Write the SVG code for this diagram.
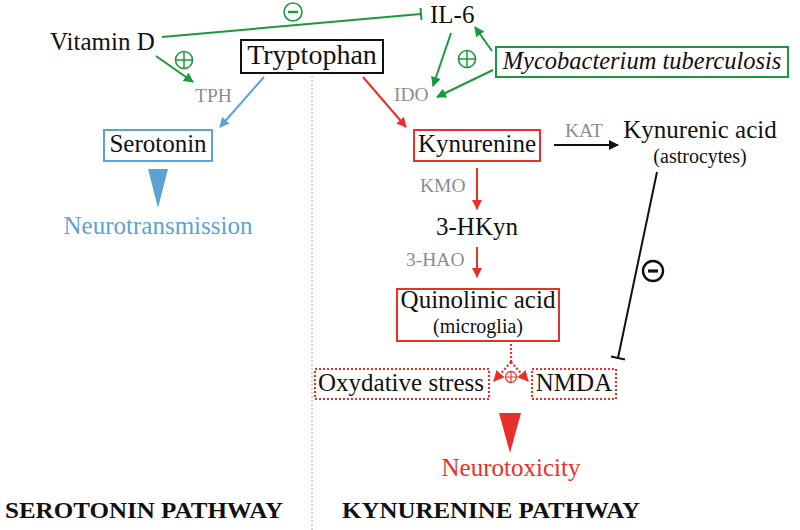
<svg xmlns="http://www.w3.org/2000/svg" width="800" height="530" viewBox="0 0 800 530">
<defs>
<style>
.lg{font-size:25px}
.sm{font-size:20px}
.enz{font-size:19.5px}
.g{stroke:#1a9a3c;stroke-width:2;fill:none}
.r{stroke:#e8302a;stroke-width:2;fill:none}
.b{stroke:#5aa3d4;stroke-width:2;fill:none}
.k{stroke:#111;stroke-width:2;fill:none}
.rd{stroke:#e8302a;stroke-width:2.2;fill:none;stroke-dasharray:2 2}
.title{font-size:24px;font-weight:bold}
</style>
<marker id="ag" viewBox="0 0 10 10" refX="9" refY="5" markerWidth="5" markerHeight="5" orient="auto"><path d="M0,0 L10,5 L0,10 z" fill="#1a9a3c"/></marker>
<marker id="ar" viewBox="0 0 10 10" refX="9" refY="5" markerWidth="5" markerHeight="5" orient="auto"><path d="M0,0 L10,5 L0,10 z" fill="#e8302a"/></marker>
<marker id="ab" viewBox="0 0 10 10" refX="9" refY="5" markerWidth="5" markerHeight="5" orient="auto"><path d="M0,0 L10,5 L0,10 z" fill="#5aa3d4"/></marker>
<marker id="ak" viewBox="0 0 10 10" refX="9" refY="5" markerWidth="5" markerHeight="5" orient="auto"><path d="M0,0 L10,5 L0,10 z" fill="#111"/></marker>
</defs>
<rect width="800" height="530" fill="#fff"/>
<line x1="312" y1="76" x2="312" y2="530" stroke="#aaa" stroke-width="1" stroke-dasharray="2 2"/>

<g id="connectors">
<line class="g" x1="162" y1="37" x2="421" y2="14"/>
<line class="g" x1="420.5" y1="8" x2="421.5" y2="20"/>
<line class="g" x1="156" y1="56" x2="193" y2="82" marker-end="url(#ag)"/>
<line class="b" x1="264" y1="77" x2="220" y2="127" marker-end="url(#ab)"/>
<line class="r" x1="363" y1="77" x2="406" y2="127" marker-end="url(#ar)"/>
<line class="g" x1="451" y1="33" x2="433" y2="86" marker-end="url(#ag)"/>
<line class="g" x1="492" y1="51" x2="475" y2="27" marker-end="url(#ag)"/>
<line class="g" x1="493" y1="70" x2="437" y2="97" marker-end="url(#ag)"/>
<line class="k" x1="554" y1="145" x2="618" y2="145" marker-end="url(#ak)"/>
<line class="r" x1="477" y1="168" x2="477" y2="209" marker-end="url(#ar)"/>
<line class="r" x1="477" y1="247" x2="477" y2="277" marker-end="url(#ar)"/>
<line class="k" x1="657" y1="172" x2="618" y2="358"/>
<line class="k" x1="611" y1="356.6" x2="625" y2="359.4"/>
<line class="rd" x1="511" y1="344" x2="511" y2="362"/>
<line class="rd" x1="511" y1="362" x2="494" y2="381" marker-end="url(#ar)"/>
<line class="rd" x1="511" y1="362" x2="528" y2="381" marker-end="url(#ar)"/>
</g>

<g id="signs">
<circle cx="293" cy="12" r="9" fill="none" stroke="#1a9a3c" stroke-width="1.6"/>
<line x1="288" y1="12" x2="298" y2="12" stroke="#1a9a3c" stroke-width="2.4"/>
<circle cx="184" cy="60" r="8.5" fill="none" stroke="#1a9a3c" stroke-width="1.6"/>
<path d="M175.5,60 H192.5 M184,51.5 V68.5" stroke="#1a9a3c" stroke-width="1.5"/>
<circle cx="467" cy="59" r="8.5" fill="none" stroke="#1a9a3c" stroke-width="1.6"/>
<path d="M458.5,59 H475.5 M467,50.5 V67.5" stroke="#1a9a3c" stroke-width="1.5"/>
<circle cx="653" cy="271" r="10" fill="none" stroke="#111" stroke-width="2.4"/>
<line x1="648" y1="271" x2="658" y2="271" stroke="#111" stroke-width="3.2"/>
<circle cx="511" cy="377" r="5.5" fill="#fff" stroke="#e8302a" stroke-width="1.3"/>
<path d="M505.5,377 H516.5 M511,371.5 V382.5" stroke="#e8302a" stroke-width="1.1"/>
<polygon points="148,169 168,169 158,208" fill="#5aa3d4"/>
<polygon points="499,413 521,413 510,453" fill="#e8302a"/>
</g>

<g id="vitd"><text class="lg" font-family="Liberation Serif" fill="#111" x="50" y="50">Vitamin D</text></g>
<g id="il6"><text class="lg" font-family="Liberation Serif" fill="#111" x="430" y="23">IL-6</text></g>
<g id="tryptophan"><rect x="241" y="40" width="142" height="33" fill="#fff" stroke="#111" stroke-width="2"/><text font-family="Liberation Serif" fill="#111" x="312" y="64" text-anchor="middle" font-size="28">Tryptophan</text></g>
<g id="tph"><text class="enz" font-family="Liberation Serif" fill="#8c8c8c" x="195" y="102">TPH</text></g>
<g id="serotonin"><rect x="104" y="130" width="108" height="31" fill="#fff" stroke="#5aa3d4" stroke-width="2"/><text class="lg" font-family="Liberation Serif" fill="#111" x="158" y="152" text-anchor="middle">Serotonin</text></g>
<g id="neurotransmission"><text class="lg" font-family="Liberation Serif" fill="#5aa3d4" x="158" y="234" text-anchor="middle">Neurotransmission</text></g>
<g id="ido"><text class="enz" font-family="Liberation Serif" fill="#8c8c8c" x="394" y="101">IDO</text></g>
<g id="myco"><rect x="496" y="47" width="292" height="30" fill="#fff" stroke="#1a9a3c" stroke-width="2"/><text font-family="Liberation Serif" fill="#111" x="642" y="69" text-anchor="middle" font-size="24.5" font-style="italic">Mycobacterium tuberculosis</text></g>
<g id="kynurenine"><rect x="414" y="130" width="126" height="31" fill="#fff" stroke="#e8302a" stroke-width="2"/><text class="lg" font-family="Liberation Serif" fill="#111" x="477" y="152" text-anchor="middle">Kynurenine</text></g>
<g id="kat"><text class="enz" font-family="Liberation Serif" fill="#8c8c8c" x="565" y="137">KAT</text></g>
<g id="kynurenic"><text class="lg" font-family="Liberation Serif" fill="#111" x="700" y="138" text-anchor="middle">Kynurenic acid</text><text class="sm" font-family="Liberation Serif" fill="#111" x="700" y="163" text-anchor="middle">(astrocytes)</text></g>
<g id="kmo"><text class="enz" font-family="Liberation Serif" fill="#8c8c8c" x="420" y="192">KMO</text></g>
<g id="hkyn"><text class="lg" font-family="Liberation Serif" fill="#111" x="477" y="235" text-anchor="middle">3-HKyn</text></g>
<g id="hao"><text class="enz" font-family="Liberation Serif" fill="#8c8c8c" x="406" y="266">3-HAO</text></g>
<g id="quinolinic"><rect x="397" y="289" width="162" height="52" fill="#fff" stroke="#e8302a" stroke-width="2"/><text class="lg" font-family="Liberation Serif" fill="#111" x="478" y="308" text-anchor="middle">Quinolinic acid</text><text class="sm" font-family="Liberation Serif" fill="#111" x="478" y="333" text-anchor="middle">(microglia)</text></g>
<g id="oxy"><rect x="315" y="369" width="174" height="30" fill="none" stroke="#e8302a" stroke-width="2.2" stroke-dasharray="2 2"/><text class="lg" font-family="Liberation Serif" fill="#111" x="401" y="391" text-anchor="middle">Oxydative stress</text></g>
<g id="nmda"><rect x="532" y="369" width="84" height="30" fill="none" stroke="#e8302a" stroke-width="2.2" stroke-dasharray="2 2"/><text class="lg" font-family="Liberation Serif" fill="#111" x="574" y="391" text-anchor="middle">NMDA</text></g>
<g id="neurotoxicity"><text class="lg" font-family="Liberation Serif" fill="#e8302a" x="511" y="476" text-anchor="middle">Neurotoxicity</text></g>
<g id="labels">
<text class="title" font-family="Liberation Serif" fill="#111" x="5" y="518" textLength="278" lengthAdjust="spacingAndGlyphs">SEROTONIN PATHWAY</text>
<text class="title" font-family="Liberation Serif" fill="#111" x="342" y="518" textLength="298" lengthAdjust="spacingAndGlyphs">KYNURENINE PATHWAY</text>
</g>
</svg>
